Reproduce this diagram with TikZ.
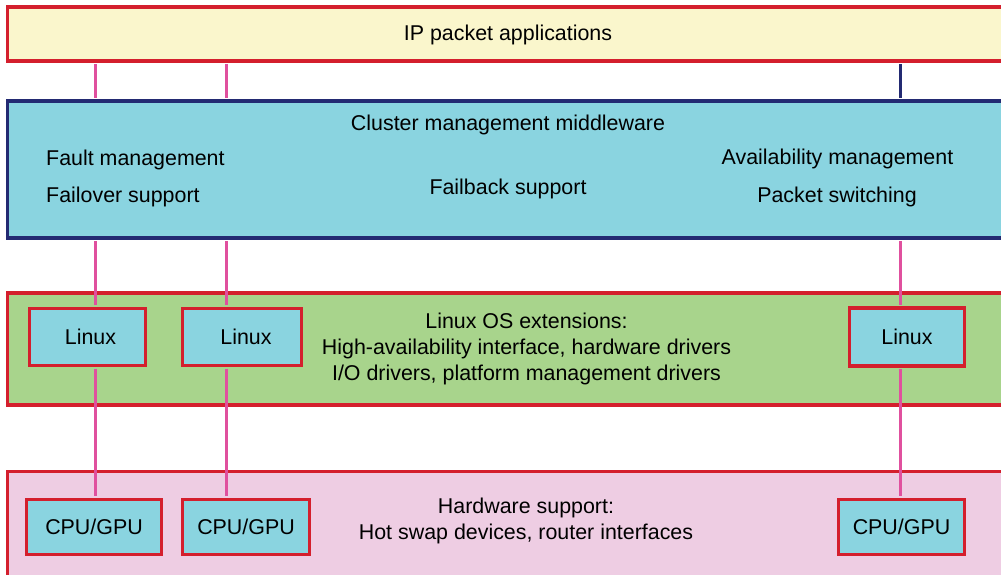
\documentclass[tikz,border=0pt]{standalone}
\usepackage{fontspec}
\setmainfont{Liberation Sans}
\definecolor{redb}{HTML}{D41F2D}
\definecolor{navyb}{HTML}{232A72}
\definecolor{yellowf}{HTML}{FAF6CC}
\definecolor{cyanf}{HTML}{8AD4E0}
\definecolor{greenf}{HTML}{A8D48C}
\definecolor{pinkf}{HTML}{EECDE3}
\definecolor{magl}{HTML}{E0509E}
\tikzset{
 layerbox/.style={draw=redb, line width=3.2pt, inner sep=0pt, minimum width=1001pt},
 smallbox/.style={draw=redb, fill=cyanf, line width=3.2pt, inner sep=0pt, font=\fontsize{21.4}{25.6}\selectfont},
 txt/.style={inner sep=0pt, font=\fontsize{21.4}{25.6}\selectfont},
 conn/.style={draw=magl, line width=3pt, shorten <=1.6pt, shorten >=1.6pt},
 navyconn/.style={draw=navyb, line width=3pt, shorten <=1.6pt, shorten >=1.6pt},
}
\begin{document}
\begin{tikzpicture}[x=1pt,y=-1pt]
\useasboundingbox (0,0) rectangle (1001,575);
\clip (0,0) rectangle (1001,575);
% layers
\node[layerbox, fill=yellowf, minimum height=54pt] (apps) at (508,34) {};
\node[layerbox, draw=navyb, fill=cyanf, minimum height=137pt] (mw) at (508,169.5) {};
\node[layerbox, fill=greenf, minimum height=112pt] (os) at (508,349) {};
\node[layerbox, fill=pinkf, minimum height=130pt] (hw) at (508,536.5) {};
% texts
\node[txt, anchor=base] (appst) at (508,40.5) {IP packet applications};
\node[txt, anchor=base] (mwt) at (508,131) {Cluster management middleware};
\node[txt, anchor=base west] (fault) at (46,165) {Fault management};
\node[txt, anchor=base west] (failover) at (46,202) {Failover support};
\node[txt, anchor=base] (failback) at (508,194) {Failback support};
\node[txt, anchor=base] (avail) at (837.5,164.5) {Availability management};
\node[txt, anchor=base] (pswitch) at (837,202) {Packet switching};
\node[txt, anchor=base] (ost1) at (526.5,328) {Linux OS extensions:};
\node[txt, anchor=base] (ost2) at (526.5,354) {High-availability interface, hardware drivers};
\node[txt, anchor=base] (ost3) at (526.5,380) {I/O drivers, platform management drivers};
\node[txt, anchor=base] (hwt1) at (526,513) {Hardware support:};
\node[txt, anchor=base] (hwt2) at (526,539) {Hot swap devices, router interfaces};
% small boxes
\node[smallbox, minimum width=116pt, minimum height=57pt] (lin1) at (87.5,337) {\hspace*{6pt}Linux};
\node[smallbox, minimum width=119pt, minimum height=57pt] (lin2) at (242,337) {\hspace*{8pt}Linux};
\node[smallbox, minimum width=115pt, minimum height=58pt] (lin3) at (907,337) {Linux};
\node[smallbox, minimum width=135pt, minimum height=55pt] (cpu1) at (94,527) {CPU/GPU};
\node[smallbox, minimum width=127pt, minimum height=55pt] (cpu2) at (246,527) {CPU/GPU};
\node[smallbox, minimum width=126pt, minimum height=55pt] (cpu3) at (901.5,527) {CPU/GPU};
% connector columns
\coordinate (x1) at (95,0);
\coordinate (x2) at (226,0);
\coordinate (x3) at (900,0);
\draw[conn] (apps.south -| x1) -- (mw.north -| x1);
\draw[conn] (apps.south -| x2) -- (mw.north -| x2);
\draw[navyconn] (apps.south -| x3) -- (mw.north -| x3);
\draw[conn] (mw.south -| x1) -- (lin1.north -| x1);
\draw[conn] (mw.south -| x2) -- (lin2.north -| x2);
\draw[conn] (mw.south -| x3) -- (lin3.north -| x3);
\draw[conn] (lin1.south -| x1) -- (cpu1.north -| x1);
\draw[conn] (lin2.south -| x2) -- (cpu2.north -| x2);
\draw[conn] (lin3.south -| x3) -- (cpu3.north -| x3);
\end{tikzpicture}
\end{document}
